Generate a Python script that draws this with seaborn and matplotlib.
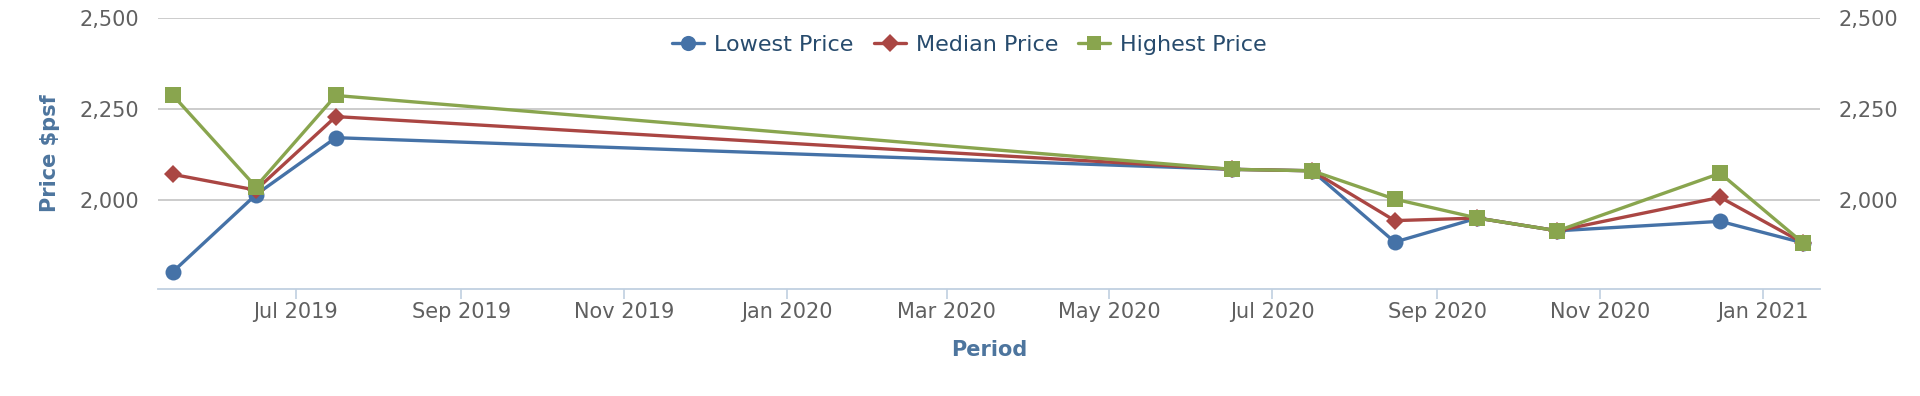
import numpy as np
import pandas as pd
import matplotlib
matplotlib.use("Agg")
import matplotlib.pyplot as plt
import matplotlib.dates as mdates
from matplotlib.ticker import FuncFormatter, FixedLocator
import seaborn as sns

# ---- data ----
dates = ['2019-05-16', '2019-06-16', '2019-07-16', '2020-06-16', '2020-07-16',
         '2020-08-16', '2020-09-16', '2020-10-16', '2020-12-16', '2021-01-16']
lowest = [1803, 2014, 2171, 2084, 2080, 1884, 1950, 1915, 1941, 1882]
median = [2070, 2027, 2229, 2084, 2080, 1943, 1950, 1915, 2007, 1882]
highest = [2287, 2036, 2287, 2084, 2080, 2002, 1950, 1915, 2073, 1882]
series_names = ['Lowest Price', 'Median Price', 'Highest Price']
y_ticks = [2000, 2250, 2500]

sns.set_theme(style="white")
plt.rcParams['font.family'] = ['DejaVu Sans']

fig = plt.figure(figsize=(19.2, 3.96), dpi=100)
ax = fig.add_axes([158/1920, 1-289/396, (1820-158)/1920, (289-18)/396])

d = pd.to_datetime(dates)
df = pd.DataFrame({'date': d, 'Lowest Price': lowest,
                   'Median Price': median, 'Highest Price': highest})

colors = {'Lowest Price': '#4572A7', 'Median Price': '#AA4643', 'Highest Price': '#89A54E'}
markers = {'Lowest Price': 'o', 'Median Price': 'D', 'Highest Price': 's'}
msizes = {'Lowest Price': 11.5, 'Median Price': 9.5, 'Highest Price': 11}

for name in series_names:
    sns.lineplot(data=df, x='date', y=name, ax=ax, color=colors[name],
                 marker=markers[name], markersize=msizes[name],
                 markeredgewidth=0, linewidth=2.4, label=name, zorder=3)

handles, labels = ax.get_legend_handles_labels()
if ax.get_legend() is not None:
    ax.get_legend().remove()

ax.set_ylim(1755, 2500)
ax.set_xlim(pd.Timestamp('2019-05-10 08:00'), pd.Timestamp('2021-01-22 10:00'))

fmt = FuncFormatter(lambda v, p: f"{int(v):,}")
ax.yaxis.set_major_locator(FixedLocator(y_ticks))
ax.yaxis.set_major_formatter(fmt)
ax.grid(axis='y', color='#C8C8C8', linewidth=1.3)
ax.grid(axis='x', visible=False)

ax.xaxis.set_major_locator(mdates.MonthLocator(bymonth=[1, 3, 5, 7, 9, 11]))
ax.xaxis.set_major_formatter(mdates.DateFormatter('%b %Y'))

for s in ['top', 'left', 'right']:
    ax.spines[s].set_visible(False)
ax.spines['bottom'].set_color('#C0D0E0')
ax.spines['bottom'].set_linewidth(1.3)

ax.tick_params(axis='x', colors='#C0D0E0', length=7, width=1.2, direction='out',
               labelcolor='#606060', labelsize=15, pad=2.5, bottom=True)
ax.tick_params(axis='y', length=0, labelcolor='#606060', labelsize=15, pad=13.5)

ax.set_xlabel('Period', fontsize=15, fontweight='bold', color='#4D759E', labelpad=12.5)
ax.set_ylabel('Price $psf', fontsize=15, fontweight='bold', color='#4D759E', labelpad=14)

ax2 = ax.twinx()
ax2.set_ylim(ax.get_ylim())
ax2.yaxis.set_major_locator(FixedLocator(y_ticks))
ax2.yaxis.set_major_formatter(fmt)
ax2.tick_params(axis='y', length=0, labelcolor='#606060', labelsize=15, pad=13)
for s in ['top', 'left', 'right', 'bottom']:
    ax2.spines[s].set_visible(False)
ax2.grid(False)

leg = fig.legend(handles, labels, loc='center', bbox_to_anchor=(0.505, 0.886),
                 ncol=3, frameon=False, fontsize=16, handlelength=1.45,
                 columnspacing=0.9, handletextpad=0.45, markerscale=0.95)
for t in leg.get_texts():
    t.set_color('#274B6D')

fig.savefig('out.png', dpi=100, facecolor='white')
